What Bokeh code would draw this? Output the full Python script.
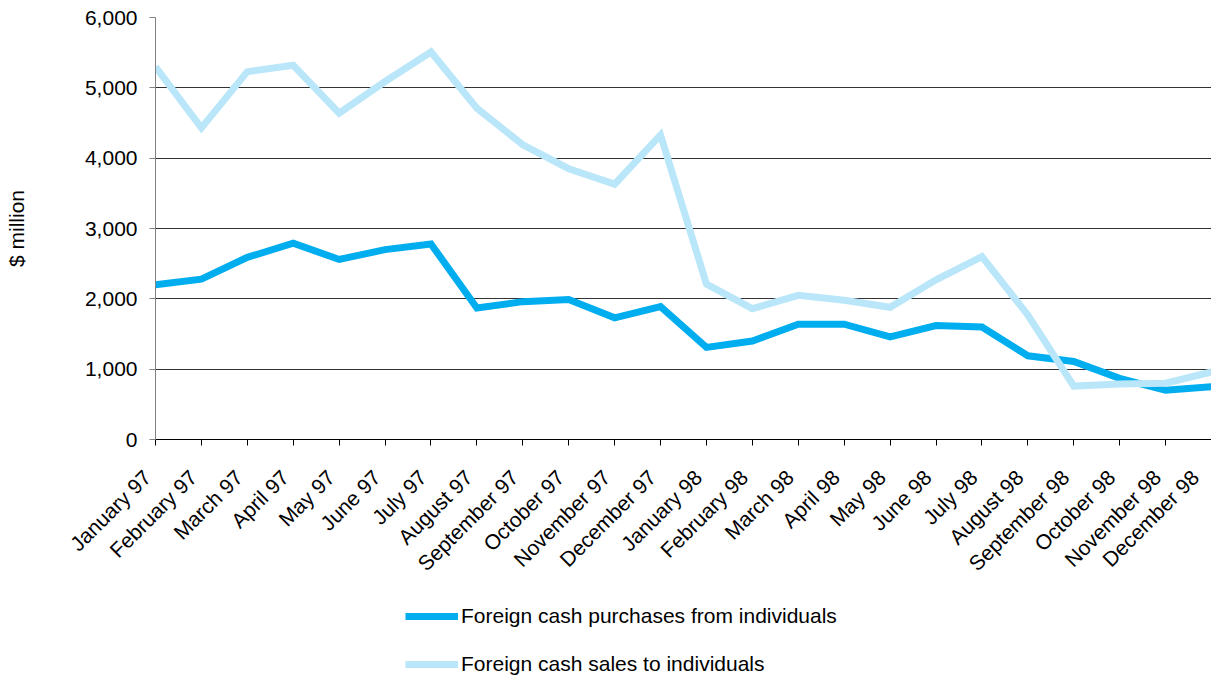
import math
from bokeh.plotting import figure
from bokeh.layouts import column
from bokeh.models import Range1d, FixedTicker, NumeralTickFormatter, Legend, LegendItem
from bokeh.embed import file_html
from bokeh.resources import INLINE

months = ["January 97", "February 97", "March 97", "April 97", "May 97", "June 97",
          "July 97", "August 97", "September 97", "October 97", "November 97", "December 97",
          "January 98", "February 98", "March 98", "April 98", "May 98", "June 98",
          "July 98", "August 98", "September 98", "October 98", "November 98", "December 98"]

purchases = [2200, 2280, 2590, 2790, 2560, 2700, 2780, 1870, 1960, 1990, 1730, 1890,
             1310, 1400, 1640, 1640, 1460, 1620, 1600, 1190, 1110, 870, 700, 750]

sales = [5300, 4430, 5230, 5320, 4640, 5090, 5510, 4710, 4190, 3850, 3630, 4330,
         2210, 1860, 2050, 1980, 1880, 2270, 2600, 1770, 760, 790, 800, 960]

series_names = ["Foreign cash purchases from individuals", "Foreign cash sales to individuals"]

y_ticks = [0, 1000, 2000, 3000, 4000, 5000, 6000]

FONT = "Liberation Sans"
DARK = "#00AEEF"
LIGHT = "#BAE6F9"

W = 1211
x = list(range(len(months)))

# ---------------- main chart ----------------
p = figure(width=W, height=590, output_backend="svg", toolbar_location=None,
           x_range=Range1d(0, len(months) - 1), y_range=Range1d(0, 6000),
           min_border_left=155, min_border_right=0, min_border_top=17, min_border_bottom=151)
p.outline_line_color = None
p.background_fill_color = "white"
p.border_fill_color = "white"

p.line(x, purchases, line_color=DARK, line_width=7, line_join="miter")
p.line(x, sales, line_color=LIGHT, line_width=7, line_join="miter")

xa = p.xaxis[0]
xa.ticker = FixedTicker(ticks=x)
xa.major_label_overrides = {i: m + "\u00a0\u00a0" for i, m in enumerate(months)}
xa.major_label_orientation = math.pi / 4
xa.major_label_text_font = FONT
xa.major_label_text_font_size = "21px"
xa.major_label_text_color = "black"
xa.axis_line_color = "black"
xa.major_tick_line_color = "black"
xa.major_tick_out = 6
xa.major_tick_in = 0
xa.minor_tick_line_color = None
xa.major_label_standoff = 20

ya = p.yaxis[0]
ya.ticker = FixedTicker(ticks=y_ticks)
ya.formatter = NumeralTickFormatter(format="0,0")
ya.major_label_text_font = FONT
ya.major_label_text_font_size = "21px"
ya.major_label_text_color = "black"
ya.axis_line_color = "#808080"
ya.major_tick_line_color = "#808080"
ya.major_tick_out = 6
ya.major_tick_in = 0
ya.minor_tick_line_color = None
ya.major_label_standoff = 12
ya.axis_label = "$ million"
ya.axis_label_text_font = FONT
ya.axis_label_text_font_size = "21px"
ya.axis_label_text_font_style = "normal"
ya.axis_label_text_color = "black"
ya.axis_label_standoff = 54

p.xgrid.grid_line_color = None
p.ygrid.grid_line_color = "#333333"
p.ygrid.grid_line_width = 1
p.ygrid.ticker = FixedTicker(ticks=y_ticks)

# ---------------- legend strip (frame aligned with the chart's frame) ----------------
lg = figure(width=W, height=86, output_backend="svg", toolbar_location=None,
            x_range=Range1d(0, len(months) - 1), y_range=Range1d(-2, -1),
            min_border=0)
lg.outline_line_color = None
lg.xaxis.visible = False
lg.yaxis.visible = False
lg.xgrid.grid_line_color = None
lg.ygrid.grid_line_color = None
# legend keys: same series, outside this strip's visible range so only the keys show
k1 = lg.line(x, purchases, line_color=DARK, line_width=7)
k2 = lg.line(x, sales, line_color=LIGHT, line_width=7)

legend = Legend(items=[LegendItem(label=series_names[0], renderers=[k1]),
                       LegendItem(label=series_names[1], renderers=[k2])],
                location=(250, 0), orientation="vertical",
                glyph_width=53, glyph_height=20, label_height=20, spacing=24,
                label_standoff=3, padding=0, margin=0,
                label_text_font=FONT, label_text_font_size="21px", label_text_color="black",
                border_line_color=None, background_fill_alpha=0)
lg.add_layout(legend, "center")

open("out.html", "w").write(file_html(column(p, lg), INLINE))
